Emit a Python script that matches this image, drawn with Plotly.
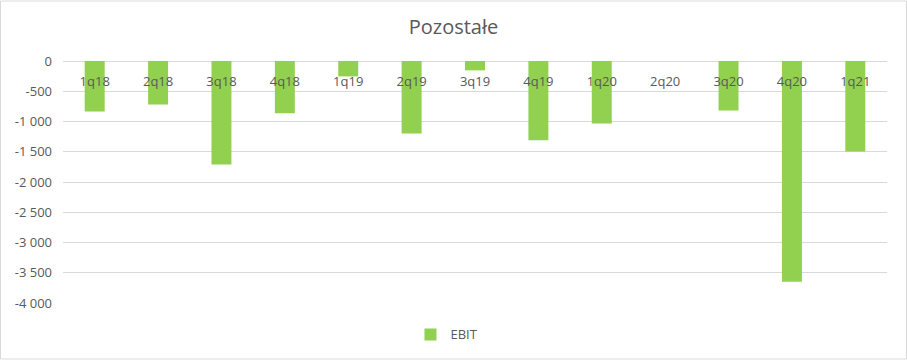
import plotly.graph_objects as go

quarters = ["1q18", "2q18", "3q18", "4q18", "1q19", "2q19", "3q19", "4q19",
            "1q20", "2q20", "3q20", "4q20", "1q21"]
ebit = [-835, -720, -1710, -865, -255, -1200, -155, -1310,
        -1035, 0, -820, -3650, -1495]
y_ticks = [0, -500, -1000, -1500, -2000, -2500, -3000, -3500, -4000]
y_tick_labels = ["0", "-500", "-1 000", "-1 500", "-2 000", "-2 500",
                 "-3 000", "-3 500", "-4 000"]

gray = "#595959"
fig = go.Figure()
fig.add_trace(go.Bar(x=quarters, y=ebit, name="EBIT",
                     marker=dict(color="#92D050", line=dict(width=0))))

fig.update_layout(
    width=907, height=360,
    margin=dict(l=63, r=20, t=61, b=57, autoexpand=False),
    paper_bgcolor="white", plot_bgcolor="white",
    title=dict(text="Pozostałe", x=0.5, xanchor="center", y=0.925, yanchor="middle",
               font=dict(family="Open Sans", size=20, color=gray)),
    bargap=0.685,
    showlegend=True,
    legend=dict(orientation="h", x=0.466, xanchor="center", y=-0.13, yanchor="middle",
                font=dict(family="Open Sans", size=13, color=gray)),
    font=dict(family="Open Sans", color=gray),
    xaxis=dict(side="bottom", anchor="free", position=1, automargin=False,
               ticklabelstandoff=11,
               showgrid=False, showline=False, ticks="", zeroline=False,
               tickfont=dict(family="Open Sans", size=13, color=gray)),
    yaxis=dict(range=[-4000, 0], tickvals=y_ticks, ticktext=y_tick_labels,
               automargin=False,
               showgrid=True, gridcolor="#D9D9D9", gridwidth=1,
               zeroline=True, zerolinecolor="#D9D9D9", zerolinewidth=1,
               showline=False, ticks="", ticklabelstandoff=10,
               tickfont=dict(family="Open Sans", size=13, color=gray)),
)

fig.add_shape(type="rect", xref="paper", yref="paper",
              x0=-62.5/824, x1=(907-62.5-1)/824, y0=-(57-1)/242, y1=(61+242-1)/242 + 0,
              line=dict(color="#D9D9D9", width=1), fillcolor="rgba(0,0,0,0)", layer="below")

fig.write_html("out.html", config={"displayModeBar": False},
               post_script="document.body.style.margin='0';")
